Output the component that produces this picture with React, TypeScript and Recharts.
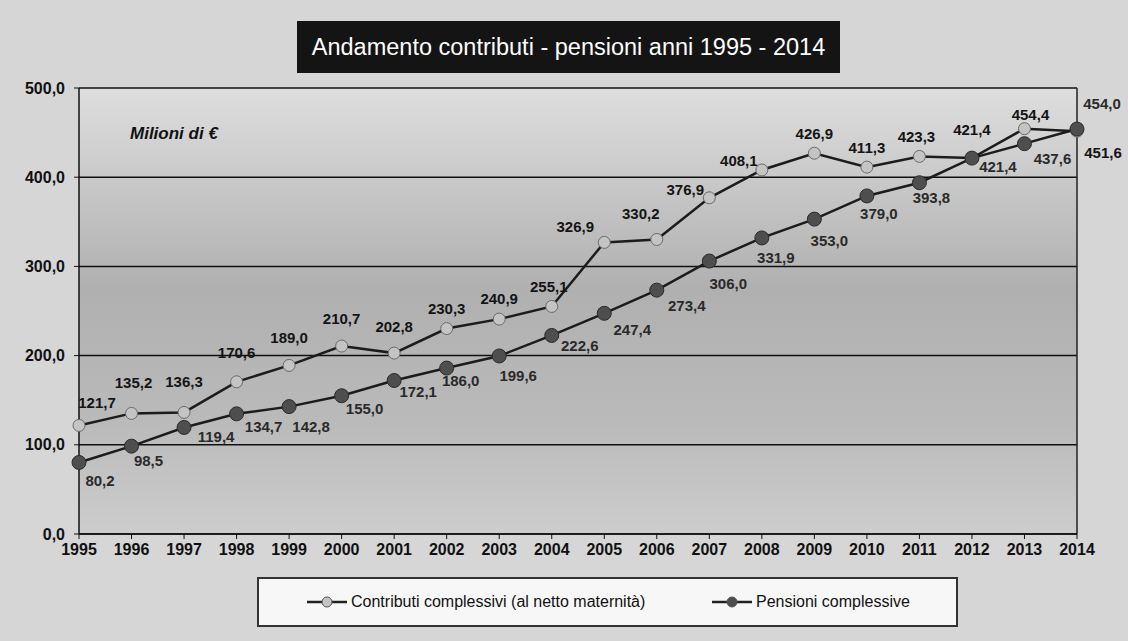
import { LineChart, Line, XAxis, YAxis, CartesianGrid, ReferenceLine, LabelList } from 'recharts';

const years = ['1995', '1996', '1997', '1998', '1999', '2000', '2001', '2002', '2003', '2004',
  '2005', '2006', '2007', '2008', '2009', '2010', '2011', '2012', '2013', '2014'];

const contributi = [121.7, 135.2, 136.3, 170.6, 189.0, 210.7, 202.8, 230.3, 240.9, 255.1,
  326.9, 330.2, 376.9, 408.1, 426.9, 411.3, 423.3, 421.4, 454.4, 451.6];

const pensioni = [80.2, 98.5, 119.4, 134.7, 142.8, 155.0, 172.1, 186.0, 199.6, 222.6,
  247.4, 273.4, 306.0, 331.9, 353.0, 379.0, 393.8, 421.4, 437.6, 454.0];

const yTicks = [0, 100, 200, 300, 400, 500];

// label centre offsets from each point
const contribOffsets: [number, number][] = [
  [18, -23], [2, -31], [0, -31], [0, -29], [0, -28], [0, -28], [0, -27], [0, -20], [0, -21], [-3, -20],
  [-29, -16], [-16, -26], [-24, -8], [-23, -9], [0, -20], [0, -20], [-3, -20], [0, -29], [6, -14], [26, 21],
];
const pensOffsets: [number, number][] = [
  [21, 18], [17, 14], [32, 9], [27, 13], [22, 20], [23, 13], [24, 11], [14, 12], [19, 20], [28, 10],
  [28, 16], [30, 15], [19, 22], [14, 20], [15, 21], [12, 18], [12, 15], [26, 8], [28, 15], [25, -26],
];

const data = years.map((y, i) => ({ year: y, contributi: contributi[i], pensioni: pensioni[i] }));

const fmt = (v: number) => v.toFixed(1).replace('.', ',');
const FONT = '"Liberation Sans", Arial, sans-serif';

const makeLabel = (offsets: [number, number][], color: string) => (props: any) => {
  const { x, y, value, index } = props;
  const [dx, dy] = offsets[index] || [0, -20];
  return (
    <text x={x + dx} y={y + dy} textAnchor="middle" dominantBaseline="central"
      fontSize={15} fontWeight="bold" fill={color} fontFamily={FONT}>
      {fmt(value)}
    </text>
  );
};

const LegendMark = ({ fill }: { fill: string }) => (
  <svg width={40} height={14} style={{ display: 'block' }}>
    <line x1={0} y1={7} x2={40} y2={7} stroke="#222" strokeWidth={2.5} />
    <circle cx={20} cy={7} r={5} fill={fill} stroke="#555" strokeWidth={1} />
  </svg>
);

export default function App() {
  return (
    <div style={{ position: 'absolute', left: 0, top: 0, width: 1128, height: 641, background: '#d6d6d6', fontFamily: FONT, overflow: 'hidden' }}>
      <svg width={0} height={0} style={{ position: 'absolute' }}>
        <defs>
          <linearGradient id="plotBg" x1="0" y1="0" x2="0" y2="1">
            <stop offset="0%" stopColor="#dedede" />
            <stop offset="45%" stopColor="#b0b0b0" />
            <stop offset="75%" stopColor="#bababa" />
            <stop offset="100%" stopColor="#cdcdcd" />
          </linearGradient>
        </defs>
      </svg>

      <div style={{ position: 'absolute', left: 297, top: 21, width: 543, height: 52, background: '#141414', color: '#fff',
        fontSize: 23.5, display: 'flex', alignItems: 'center', justifyContent: 'center' }}>
        Andamento contributi - pensioni anni 1995 - 2014
      </div>

      <LineChart width={1128} height={641} data={data} margin={{ top: 88, right: 51, bottom: 77, left: 19 }}
        style={{ position: 'absolute', left: 0, top: 0 }}>
        <CartesianGrid vertical={false} fill="url(#plotBg)" stroke="#111" strokeWidth={1.5} />
        <XAxis dataKey="year" interval={0} tickSize={5} tickMargin={5} height={30}
          axisLine={{ stroke: '#111', strokeWidth: 1.5 }} tickLine={{ stroke: '#111' }}
          tick={{ fontSize: 16, fontWeight: 'bold', fill: '#111', fontFamily: FONT }} />
        <YAxis domain={[0, 500]} ticks={yTicks} tickFormatter={fmt} width={60} tickSize={5} tickMargin={9}
          axisLine={{ stroke: '#111', strokeWidth: 1.5 }} tickLine={{ stroke: '#111' }}
          tick={{ fontSize: 16, fontWeight: 'bold', fill: '#111', fontFamily: FONT }} />
        <ReferenceLine x="2014" stroke="#222" strokeWidth={1.5} />
        <Line dataKey="contributi" isAnimationActive={false} stroke="#1c1c1c" strokeWidth={2.5}
          dot={{ r: 6, fill: '#c4c4c4', stroke: '#6a6a6a', strokeWidth: 1 }}>
          <LabelList dataKey="contributi" content={makeLabel(contribOffsets, '#141414')} />
        </Line>
        <Line dataKey="pensioni" isAnimationActive={false} stroke="#1c1c1c" strokeWidth={2.5}
          dot={{ r: 7, fill: '#4e4e4e', stroke: '#2a2a2a', strokeWidth: 1 }}>
          <LabelList dataKey="pensioni" content={makeLabel(pensOffsets, '#2a2a2a')} />
        </Line>
      </LineChart>

      <div style={{ position: 'absolute', left: 130, top: 124, fontSize: 17, fontWeight: 'bold', fontStyle: 'italic', color: '#111' }}>
        Milioni di €
      </div>

      <div style={{ position: 'absolute', left: 257, top: 577, width: 697, height: 46, background: '#f7f7f7', border: '2px solid #333' }}>
        <div style={{ position: 'absolute', left: 48, top: 0, height: 46, display: 'flex', alignItems: 'center', gap: 4, fontSize: 16, color: '#111' }}>
          <LegendMark fill="#c4c4c4" />
          <span>Contributi complessivi (al netto maternità)</span>
        </div>
        <div style={{ position: 'absolute', left: 453, top: 0, height: 46, display: 'flex', alignItems: 'center', gap: 4, fontSize: 16, color: '#111' }}>
          <LegendMark fill="#4e4e4e" />
          <span>Pensioni complessive</span>
        </div>
      </div>
    </div>
  );
}
